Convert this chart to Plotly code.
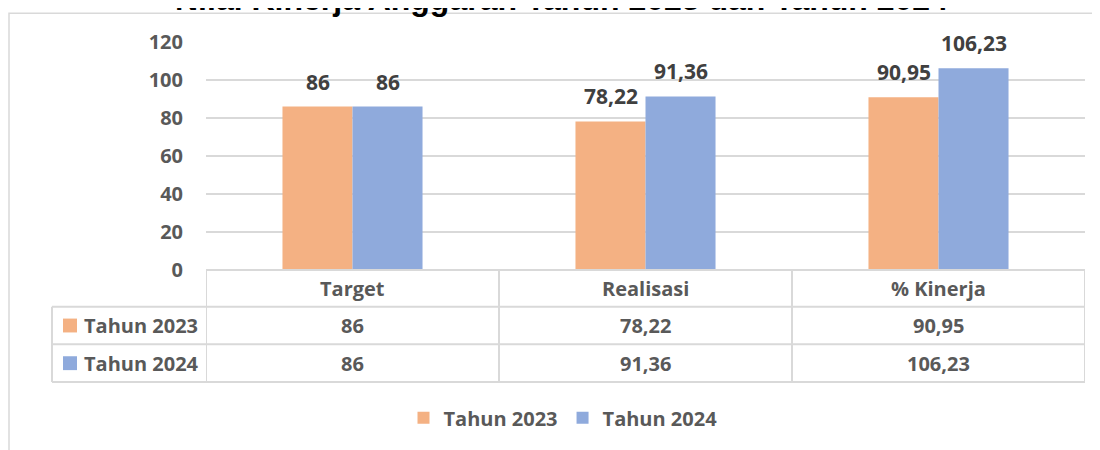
import plotly.graph_objects as go

categories = ["Target", "Realisasi", "% Kinerja"]
series_names = ["Tahun 2023", "Tahun 2024"]
values_2023 = [86, 78.22, 90.95]
values_2024 = [86, 91.36, 106.23]
y_ticks = [0, 20, 40, 60, 80, 100, 120]
title_text = "Nilai Kinerja Anggaran Tahun 2023 dan Tahun 2024"

colors = ["#F4B183", "#8FAADC"]
series_values = [values_2023, values_2024]

# page offset from the default body margin
OFF = 8
W_FIG, H_FIG = 1100 - OFF, 450 - OFF
# plot area in page pixels
L, R, T, B = 206, 1085, 42, 272
PW, PH = R - L, B - T


def px_x(x):
    return (x - L) / PW


def px_y(y):
    return (B - y) / PH


def fmt(v):
    return f"{v:g}".replace(".", ",")


FONT = "Open Sans"
GRAY = "#595959"
DARK = "#404040"
LINE = "#D9D9D9"

fig = go.Figure()
for name, vals, col in zip(series_names, series_values, colors):
    fig.add_trace(go.Bar(
        x=categories, y=vals, name=name,
        marker=dict(color=col, line=dict(width=0)),
        hoverinfo="skip",
    ))

annotations = []
shapes = []

# data labels above bars
for si, vals in enumerate(series_values):
    shift = -35 if si == 0 else 35
    for c, v in zip(categories, vals):
        annotations.append(dict(
            x=c, y=v, xref="x", yref="y", text=fmt(v), showarrow=False,
            xshift=shift, yshift=25, yanchor="middle", xanchor="center",
            font=dict(family=FONT, size=21, color=DARK, weight="bold"),
        ))

# table header
for c in categories:
    annotations.append(dict(
        x=c, y=px_y(290.5), xref="x", yref="paper", text=c, showarrow=False,
        yanchor="middle", xanchor="center",
        font=dict(family=FONT, size=20, color=GRAY, weight="bold"),
    ))

# table rows
row_centers = [328, 366]
for si, (name, vals, col) in enumerate(zip(series_names, series_values, colors)):
    yc = row_centers[si]
    annotations.append(dict(
        x=px_x(82), y=px_y(yc), xref="paper", yref="paper", text=name,
        showarrow=False, yanchor="middle", xanchor="left",
        font=dict(family=FONT, size=20, color=GRAY, weight="bold"),
    ))
    shapes.append(dict(
        type="rect", xref="paper", yref="paper",
        x0=px_x(63), x1=px_x(77), y0=px_y(yc - 7), y1=px_y(yc + 7),
        fillcolor=col, line=dict(width=0),
    ))
    for c, v in zip(categories, vals):
        annotations.append(dict(
            x=c, y=px_y(yc), xref="x", yref="paper", text=fmt(v),
            showarrow=False, yanchor="middle", xanchor="center",
            font=dict(family=FONT, size=20, color=GRAY, weight="bold"),
        ))

# table grid lines
for yl in [309, 347, 385]:
    shapes.append(dict(type="line", xref="paper", yref="paper",
                       x0=px_x(52), x1=1, y0=px_y(yl), y1=px_y(yl),
                       line=dict(color=LINE, width=2)))
shapes.append(dict(type="line", xref="paper", yref="paper",
                   x0=0, x1=1, y0=px_y(272), y1=px_y(272),
                   line=dict(color=LINE, width=2)))
shapes.append(dict(type="line", xref="paper", yref="paper",
                   x0=px_x(52), x1=px_x(52), y0=px_y(309), y1=px_y(385),
                   line=dict(color=LINE, width=2)))
for i in range(len(categories) + 1):
    shapes.append(dict(type="line", xref="x", yref="paper",
                       x0=i - 0.5, x1=i - 0.5, y0=px_y(272), y1=px_y(385),
                       line=dict(color=LINE, width=2)))

# outer border
shapes.append(dict(type="rect", xref="paper", yref="paper", layer="below",
                   x0=px_x(9), x1=px_x(1115), y0=px_y(13), y1=px_y(465),
                   line=dict(color=LINE, width=1.5), fillcolor="rgba(0,0,0,0)"))

# title (cut at the top)
annotations.append(dict(
    x=px_x(561), y=px_y(-1.5), xref="paper", yref="paper", text=title_text,
    showarrow=False, yanchor="middle", xanchor="center",
    font=dict(family="Liberation Sans", size=32, color="#000000", weight="bold"),
))

fig.update_layout(
    width=W_FIG, height=H_FIG,
    margin=dict(l=L - OFF, r=W_FIG - (R - OFF), t=T - OFF,
                b=H_FIG - (B - OFF), pad=0),
    paper_bgcolor="white", plot_bgcolor="white",
    barmode="group", bargap=0.522, bargroupgap=0,
    showlegend=True,
    legend=dict(orientation="h", x=px_x(563), xanchor="center",
                y=px_y(421), yanchor="middle",
                font=dict(family=FONT, size=20, color=GRAY, weight="bold"),
                bgcolor="rgba(0,0,0,0)", traceorder="normal"),
    xaxis=dict(type="category", range=[-0.5, 2.5], showticklabels=False,
               showgrid=False, zeroline=False, showline=False, ticks=""),
    yaxis=dict(range=[0, 120], tickvals=y_ticks, ticktext=[str(t) for t in y_ticks],
               showgrid=True, gridcolor=LINE, gridwidth=2, zeroline=False,
               showline=False, ticks="", ticklabelstandoff=22,
               tickfont=dict(family=FONT, size=20, color=GRAY, weight="bold")),
    annotations=annotations, shapes=shapes,
)

fig.write_html("out.html")
